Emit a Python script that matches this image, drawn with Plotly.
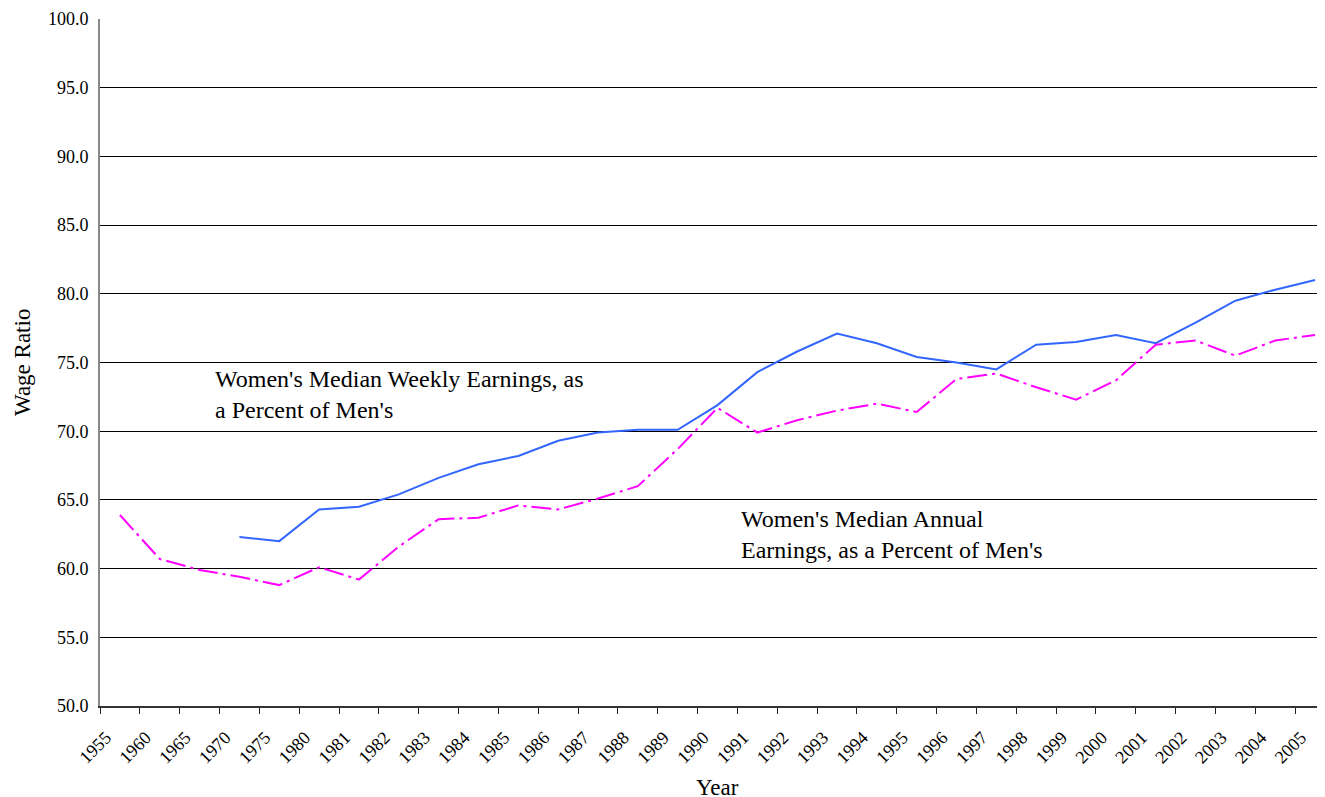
import plotly.graph_objects as go

years = ["1955", "1960", "1965", "1970", "1975", "1980", "1981", "1982", "1983", "1984",
         "1985", "1986", "1987", "1988", "1989", "1990", "1991", "1992", "1993", "1994",
         "1995", "1996", "1997", "1998", "1999", "2000", "2001", "2002", "2003", "2004", "2005"]

weekly = [None, None, None, 62.3, 62.0, 64.3, 64.5, 65.4, 66.6, 67.6,
          68.2, 69.3, 69.9, 70.1, 70.1, 71.9, 74.3, 75.8, 77.1, 76.4,
          75.4, 75.0, 74.5, 76.3, 76.5, 77.0, 76.4, 77.9, 79.5, 80.3, 81.0]

annual = [63.9, 60.7, 59.9, 59.4, 58.8, 60.1, 59.2, 61.6, 63.6, 63.7,
          64.6, 64.3, 65.1, 66.0, 68.7, 71.7, 69.9, 70.8, 71.5, 72.0,
          71.4, 73.8, 74.2, 73.2, 72.3, 73.7, 76.3, 76.6, 75.5, 76.6, 77.0]

yticks = [50, 55, 60, 65, 70, 75, 80, 85, 90, 95, 100]

FONT = "Liberation Serif, Times New Roman, serif"

fig = go.Figure()
fig.add_trace(go.Scatter(
    x=years, y=weekly, mode="lines", name="Weekly",
    line=dict(color="#3366FF", width=2), connectgaps=False, showlegend=False))
fig.add_trace(go.Scatter(
    x=years, y=annual, mode="lines", name="Annual",
    line=dict(color="#FF00FF", width=2, dash="20px,5px,3px,5px"), showlegend=False))

fig.update_layout(
    width=1325, height=797,
    margin=dict(l=92, r=0, t=11, b=99),
    paper_bgcolor="white", plot_bgcolor="white",
    font=dict(family=FONT, color="black"),
    showlegend=False,
)

fig.update_xaxes(
    type="category", categoryorder="array", categoryarray=years,
    range=[-0.5, 30.45],
    tickson="boundaries", ticks="outside", ticklen=6, tickwidth=1, tickcolor="#222",
    tickangle=-45, tickfont=dict(family=FONT, size=18, color="black"),
    ticklabelshift=-14, ticklabelstandoff=12,
    showline=True, linecolor="#333", linewidth=2,
    showgrid=False, zeroline=False,
)
fig.update_yaxes(
    range=[50, 100], tickvals=yticks, ticktext=[f"{v:.1f}" for v in yticks],
    ticks="", ticklabelstandoff=6,
    tickfont=dict(family=FONT, size=18, color="black"),
    showline=True, linecolor="#888", linewidth=2,
    showgrid=True, gridcolor="black", gridwidth=1, zeroline=False,
)

fig.add_annotation(text="Year", xref="paper", yref="paper", x=0.5012, y=-0.1180,
                   xanchor="center", yanchor="middle", showarrow=False,
                   font=dict(family=FONT, size=23, color="black"))
fig.add_annotation(text="Wage Ratio", xref="paper", yref="paper", x=-0.0633, y=0.5007,
                   xanchor="center", yanchor="middle", textangle=-90, showarrow=False,
                   font=dict(family=FONT, size=23, color="black"))
fig.add_annotation(text="Women's Median Weekly Earnings, as<br>a Percent of Men's",
                   xref="paper", yref="paper", x=0.0916, y=0.4527,
                   xanchor="left", yanchor="middle", align="left", showarrow=False,
                   font=dict(family=FONT, size=24, color="black"))
fig.add_annotation(text="Women's Median Annual<br>Earnings, as a Percent of Men's",
                   xref="paper", yref="paper", x=0.5182, y=0.2496,
                   xanchor="left", yanchor="middle", align="left", showarrow=False,
                   font=dict(family=FONT, size=24, color="black"))

fig.write_html("out.html")
